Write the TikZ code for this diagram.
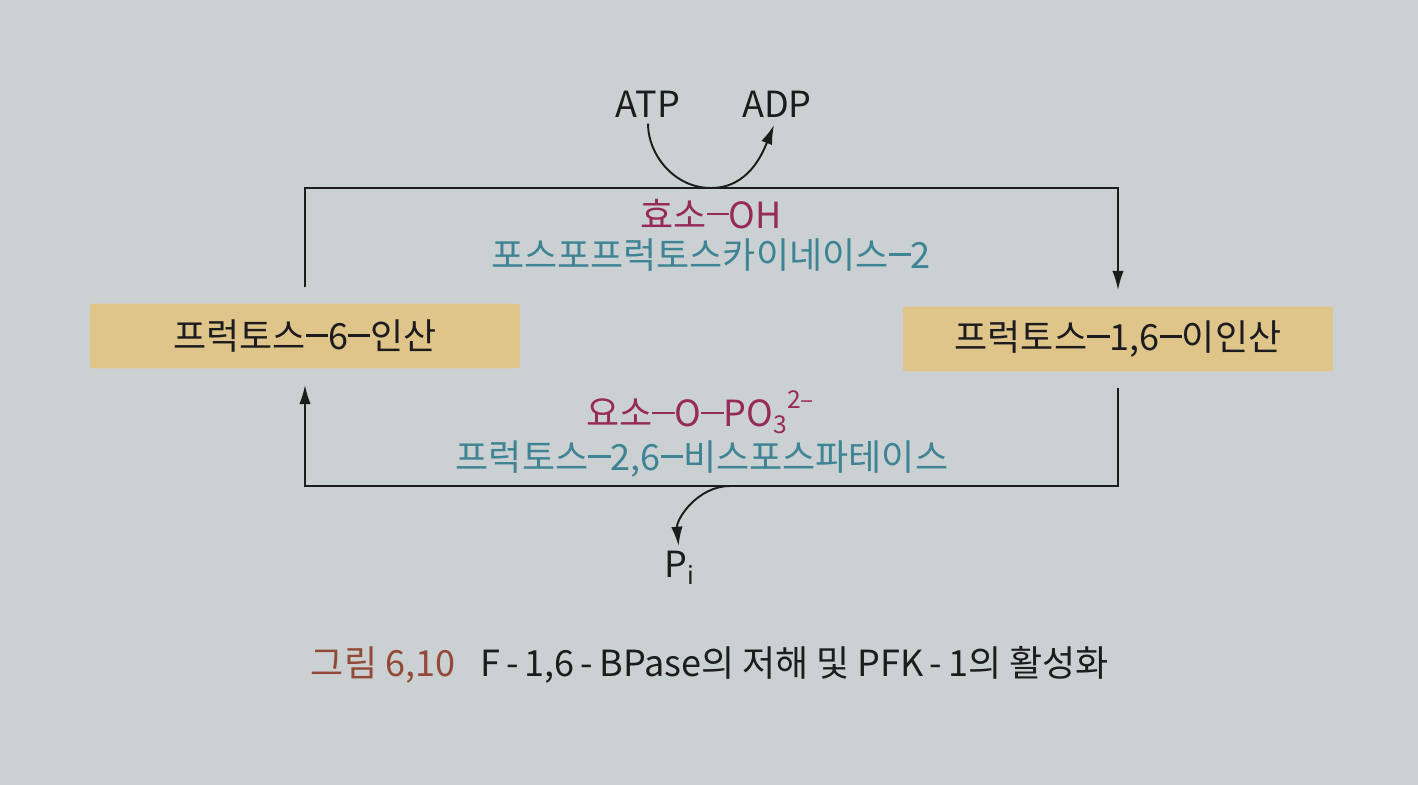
\documentclass[tikz,border=0pt]{standalone}
\usepackage{fontspec}
\setmainfont{Noto Sans CJK KR}
\usetikzlibrary{arrows.meta}

\definecolor{paper}{RGB}{203,208,211}
\definecolor{sugartan}{RGB}{224,197,139}
\definecolor{inkblack}{RGB}{28,28,30}
\definecolor{enzred}{RGB}{150,42,88}
\definecolor{enzteal}{RGB}{62,132,148}
\definecolor{capbrown}{RGB}{146,74,54}

% long joining dash as printed in the figure
\newcommand{\bondbar}{\rule[0.36em]{0.62em}{0.06em}}
\newcommand{\lowidx}[1]{\raisebox{-0.35ex}{\fontsize{14}{14}\selectfont #1}}

\tikzset{
  sugar/.style={fill=sugartan, rounded corners=1.5pt, minimum width=8.6cm,
    minimum height=1.3cm, inner sep=0pt, text=inkblack,
    font=\fontsize{20.5}{24}\selectfont},
  enzform/.style={inner sep=0pt, text=enzred, font=\fontsize{20.5}{24}\selectfont},
  enzname/.style={inner sep=0pt, text=enzteal, font=\fontsize{20.5}{24}\selectfont},
  cofactor/.style={inner sep=0pt, text=inkblack, font=\fontsize{20.5}{24}\selectfont},
  figcaption/.style={inner sep=0pt, text=inkblack, font=\fontsize{20.5}{24}\selectfont},
  rail/.style={draw=inkblack, line width=1.1pt},
}

\begin{document}
\begin{tikzpicture}[x=0.02cm,y=-0.02cm,>={Latex[length=11pt,width=6.5pt]}]
\fill[paper] (0,0) rectangle (1418,785);
\useasboundingbox (0,0) rectangle (1418,785);

% the two sugars
\node[sugar] (F6P)   at (305,336)  {프럭토스\bondbar 6\bondbar 인산};
\node[sugar] (F16BP) at (1118,339) {프럭토스\bondbar 1,6\bondbar 이인산};

% kinase side, top
\node[cofactor] (ATP) at (648,104) {ATP};
\node[cofactor] (ADP) at (777,104) {ADP};
\node[enzform] (kinform) at (711,214) {효소\bondbar OH};
\node[enzname]  (kinname) at (711,255) {포스포프럭토스카이네이스\bondbar 2};

% phosphatase side, bottom
\node[enzform] (pasform) at (700,412)
  {요소\bondbar O\bondbar PO\lowidx{3}\raisebox{0.95ex}{\fontsize{14}{14}\selectfont 2–}};
\node[enzname]  (pasname) at (702,459) {프럭토스\bondbar 2,6\bondbar 비스포스파테이스};
\node[cofactor] (Pi) at (679,568) {P\lowidx{i}};

\coordinate (kinrail) at (711,188);
\coordinate (pasrail) at (711,486);
\coordinate (pibranch) at (730,486);

\draw[rail,->,shorten <=0.32cm,shorten >=0.32cm] (F6P.north) |- (kinrail) -| (F16BP.north);
\draw[rail,->,shorten <=0.32cm,shorten >=0.32cm] (F16BP.south) |- (pasrail) -| (F6P.south);

\draw[rail,->,shorten <=0.12cm,shorten >=0.16cm]
  (ATP.south) to[out=-90,in=180] (kinrail) to[out=0,in=-112] (ADP.south);
\draw[rail,->,shorten >=0.1cm] (pibranch) to[out=180,in=95] (Pi.north);

\node[figcaption] (figcap) at (710,665)
  {\textcolor{capbrown}{그림 6,10}\hspace{0.7em}F\,-\,1,6\,-\,BPase의 저해 및 PFK\,-\,1의 활성화};
\end{tikzpicture}
\end{document}
